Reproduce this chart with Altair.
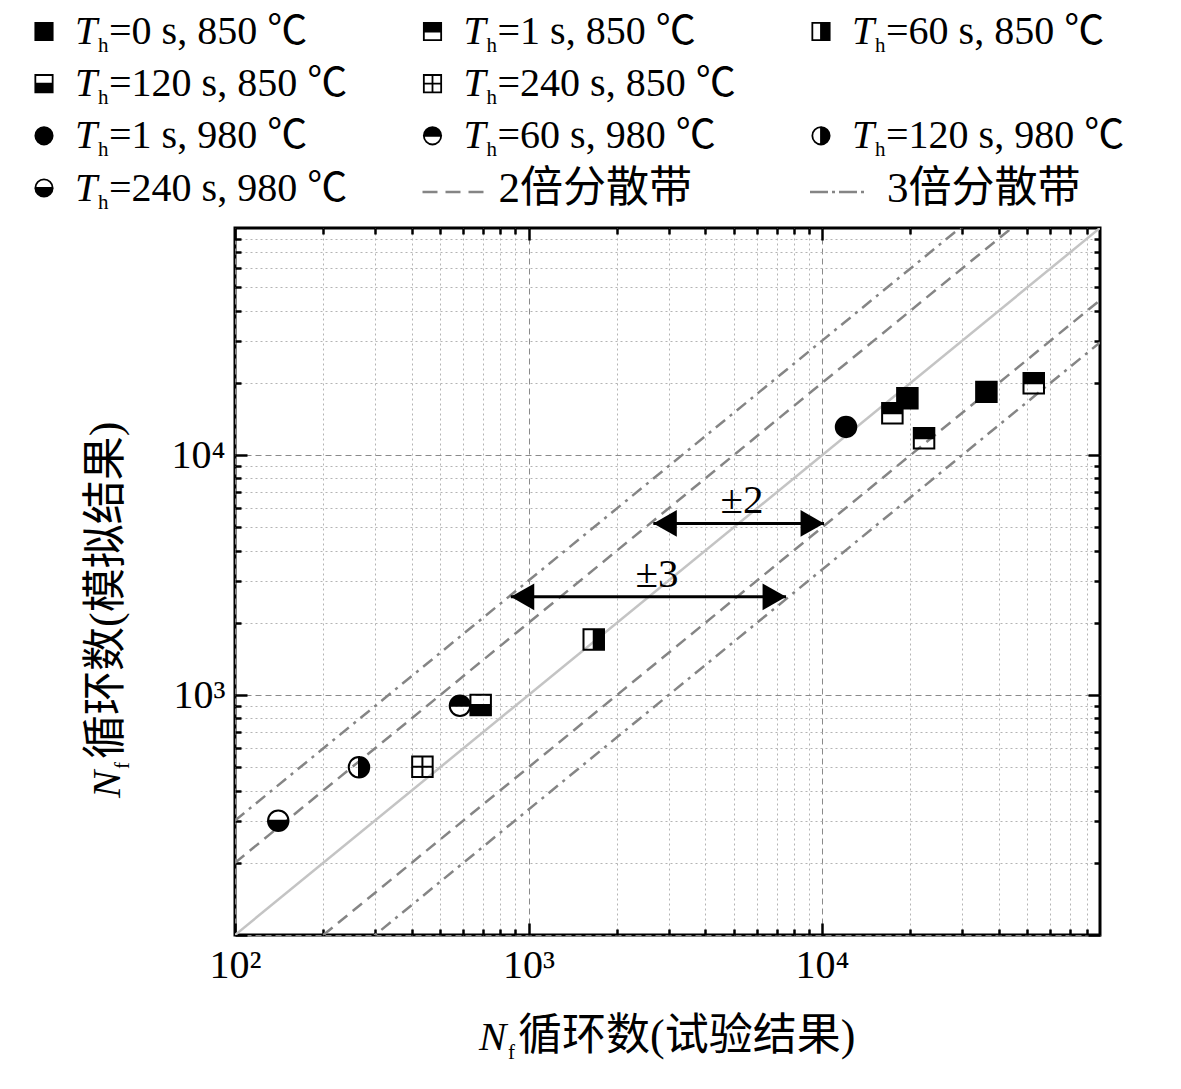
import altair as alt
import pandas as pd

# ---------------- data ----------------
series = ["0 s, 850 ℃", "1 s, 850 ℃", "60 s, 850 ℃", "120 s, 850 ℃", "240 s, 850 ℃",
          "1 s, 980 ℃", "60 s, 980 ℃", "120 s, 980 ℃", "240 s, 980 ℃"]

pt_series = ["0 s, 850 ℃", "0 s, 850 ℃", "1 s, 850 ℃", "1 s, 850 ℃", "1 s, 850 ℃",
             "60 s, 850 ℃", "120 s, 850 ℃", "240 s, 850 ℃",
             "1 s, 980 ℃", "60 s, 980 ℃", "120 s, 980 ℃", "240 s, 980 ℃"]
pt_exp = [19530, 36300, 17360, 22260, 52630, 1668, 687, 435, 12070, 584, 264.5, 140.4]
pt_sim = [17280, 18360, 14960, 11770, 19950, 1706, 909, 503, 13120, 903, 500, 299.5]

band_factor = [1, 2, 0.5, 3, 1 / 3]
band_kind = ["1:1", "2倍分散带", "2倍分散带", "3倍分散带", "3倍分散带"]

arrow_text = ["±2", "±3"]
arrow_y = [5193, 2568]
arrow_x1 = [2662, 870]
arrow_x2 = [10158, 7541]
arrow_label_x = [5340, 2740]

legend_row = [0, 0, 0, 1, 1, 2, 2, 2, 3]
legend_col = [0, 1, 2, 0, 1, 0, 1, 2, 0]
band_legend = ["2倍分散带", "3倍分散带"]
band_legend_row = [3, 3]
band_legend_col = [1, 2]

DOM = [100, 88500]
tick_values = [m * 10 ** e for e in (2, 3, 4) for m in range(1, 10) if m * 10 ** e <= DOM[1]]

# ---------------- styling ----------------
W, H = 865, 707
SERIF = "Liberation Serif"
SERIF_CJK = "Liberation Serif, Noto Sans CJK SC"
major_test = "indexof([100, 1000, 10000], datum.value) >= 0"

SQ = "M-1,-1H1V1H-1Z"
CI = "M-1,0A1,1,0,0,1,1,0A1,1,0,0,1,-1,0Z"
shape_paths = [
    SQ,
    SQ + "M-1,0V1H1V0Z",
    SQ + "M-1,-1V1H0V-1Z",
    SQ + "M-1,-1V0H1V-1Z",
    SQ + "M-1,-1V0H0V-1ZM0,-1V0H1V-1ZM-1,0V1H0V0ZM0,0V1H1V0Z",
    CI,
    CI + "M-1,0A1,1,0,0,0,1,0Z",
    CI + "M0,-1A1,1,0,0,0,0,1Z",
    CI + "M1,0A1,1,0,0,0,-1,0Z",
]
shape_scale = alt.Scale(domain=series, range=shape_paths)

x_label_expr = ("datum.value == 100 ? '10²' : datum.value == 1000 ? '10³' : "
                "datum.value == 10000 ? '10⁴' : ''")
y_label_expr = "datum.value == 1000 ? '10³' : datum.value == 10000 ? '10⁴' : ''"


def xs():
    return alt.Scale(type="log", domain=DOM, nice=False)


def label_axis(orient):
    return alt.Axis(
        values=tick_values, orient=orient, ticks=False, domain=False, grid=True,
        gridColor={"condition": {"test": major_test, "value": "#8a8a8a"}, "value": "#b4b4b4"},
        gridDash={"condition": {"test": major_test, "value": [6, 4]}, "value": [2, 3]},
        gridWidth=1, labelExpr=y_label_expr if orient == "left" else x_label_expr,
        labelFont=SERIF, labelFontSize=40,
        labelColor="black", labelPadding=10, labelFlush=False, labelOverlap=False,
        labelBound=False, title=None,
        labelAlign="right" if orient == "left" else "center",
        labelBaseline="middle" if orient == "left" else "top",
    )


def tick_axis(orient, offset):
    return alt.Axis(
        values=tick_values, orient=orient, offset=offset, labels=False, domain=False,
        grid=False, ticks=True,
        tickSize={"condition": {"test": major_test, "value": 12}, "value": 6},
        tickWidth=2.5, tickColor="black", title=None,
    )


# ---------------- frames ----------------
pts = pd.DataFrame({"series": pt_series, "exp": pt_exp, "sim": pt_sim})
lines_df = pd.DataFrame([{"kind": k, "factor": f, "x": x, "y": x * f}
                         for k, f in zip(band_kind, band_factor) for x in DOM])
arrows = pd.DataFrame({"text": arrow_text, "y": arrow_y, "x1": arrow_x1,
                       "x2": arrow_x2, "lx": arrow_label_x})
heads = pd.DataFrame({"side": ["left"] * 2 + ["right"] * 2,
                      "x": arrow_x1 + arrow_x2, "y": arrow_y + arrow_y})
leg = pd.DataFrame({"series": series, "row": legend_row, "col": legend_col,
                    "rest": ["=" + s for s in series]})
bleg = pd.DataFrame({"label": band_legend, "row": band_legend_row, "col": band_legend_col})
one = pd.DataFrame({"a": [0]})

lxs = alt.Scale(domain=[0, 2], range=[-191, 586])
lys = alt.Scale(domain=[0, 3], range=[-196.5, -40])

# ---------------- layers ----------------
solid = alt.Chart(lines_df).transform_filter(alt.datum.kind == "1:1").mark_line(
    clip=True, color="#c4c4c4", strokeWidth=2.5).encode(
    x=alt.X("x:Q", scale=xs(), axis=label_axis("bottom")),
    y=alt.Y("y:Q", scale=xs(), axis=label_axis("left")),
    detail="factor:N")

dashed = alt.Chart(lines_df).transform_filter(alt.datum.kind == "2倍分散带").mark_line(
    clip=True, color="#858585", strokeWidth=2.5, strokeDash=[12, 7]).encode(
    x=alt.X("x:Q", scale=xs(), axis=None),
    y=alt.Y("y:Q", scale=xs(), axis=None),
    detail="factor:N")

dashdot = alt.Chart(lines_df).transform_filter(alt.datum.kind == "3倍分散带").mark_line(
    clip=True, color="#858585", strokeWidth=2.5, strokeDash=[12, 6, 3, 6]).encode(
    x=alt.X("x:Q", scale=xs(), axis=None),
    y=alt.Y("y:Q", scale=xs(), axis=None),
    detail="factor:N")

points = alt.Chart(pts).mark_point(
    filled=True, fill="black", stroke="black", strokeWidth=2, size=420, opacity=1).encode(
    x=alt.X("exp:Q", scale=xs(), axis=None),
    y=alt.Y("sim:Q", scale=xs(), axis=None),
    shape=alt.Shape("series:N", scale=shape_scale, legend=None))

shaft = alt.Chart(arrows).mark_rule(color="black", strokeWidth=3).encode(
    x=alt.X("x1:Q", scale=xs(), axis=tick_axis("top", -H)),
    x2="x2:Q",
    y=alt.Y("y:Q", scale=xs(), axis=tick_axis("right", -W)))

LH = "M0,0L1.76,-1L1.76,1Z"
RH = "M0,0L-1.76,-1L-1.76,1Z"
heads_layer = alt.Chart(heads).mark_point(
    filled=True, fill="black", strokeWidth=0, size=713, opacity=1).encode(
    x=alt.X("x:Q", scale=xs(), axis=tick_axis("bottom", -H)),
    y=alt.Y("y:Q", scale=xs(), axis=tick_axis("left", -W)),
    shape=alt.Shape("side:N", scale=alt.Scale(domain=["left", "right"], range=[LH, RH]),
                    legend=None))

arrow_labels = alt.Chart(arrows).mark_text(
    font=SERIF, fontSize=41, align="center", baseline="alphabetic", dy=-10,
    color="black").encode(
    x=alt.X("lx:Q", scale=xs(), axis=None),
    y=alt.Y("y:Q", scale=xs(), axis=None),
    text="text:N")

# legend
leg_sym = alt.Chart(leg).mark_point(
    filled=True, fill="black", stroke="black", strokeWidth=1.8, size=300, opacity=1).encode(
    x=alt.X("col:Q", scale=lxs, axis=None),
    y=alt.Y("row:Q", scale=lys, axis=None),
    shape=alt.Shape("series:N", scale=shape_scale, legend=None))

leg_T = alt.Chart(leg).mark_text(
    text="T", font=SERIF, fontStyle="italic", fontSize=40, align="left",
    baseline="alphabetic", dx=31, dy=12.5, color="black").encode(
    x=alt.X("col:Q", scale=lxs, axis=None), y=alt.Y("row:Q", scale=lys, axis=None))

leg_h = alt.Chart(leg).mark_text(
    text="h", font=SERIF, fontSize=21, align="left",
    baseline="alphabetic", dx=54, dy=20.5, color="black").encode(
    x=alt.X("col:Q", scale=lxs, axis=None), y=alt.Y("row:Q", scale=lys, axis=None))

leg_rest = alt.Chart(leg).mark_text(
    font=SERIF_CJK, fontSize=40, align="left",
    baseline="alphabetic", dx=65, dy=12.5, color="black").encode(
    x=alt.X("col:Q", scale=lxs, axis=None), y=alt.Y("row:Q", scale=lys, axis=None),
    text="rest:N")

leg_dash = alt.Chart(bleg).transform_filter(alt.datum.label == "2倍分散带").mark_rule(
    color="#858585", strokeWidth=2.5, strokeDash=[15, 8], xOffset=-10, x2Offset=52,
    yOffset=4).encode(
    x=alt.X("col:Q", scale=lxs, axis=None), x2="col:Q",
    y=alt.Y("row:Q", scale=lys, axis=None))

leg_dashdot = alt.Chart(bleg).transform_filter(alt.datum.label == "3倍分散带").mark_rule(
    color="#858585", strokeWidth=2.5, strokeDash=[18, 4, 3, 4], xOffset=-11, x2Offset=46,
    yOffset=4).encode(
    x=alt.X("col:Q", scale=lxs, axis=None), x2="col:Q",
    y=alt.Y("row:Q", scale=lys, axis=None))

leg_band_text = alt.Chart(bleg).mark_text(
    font=SERIF_CJK, fontSize=43, align="left", baseline="alphabetic",
    dx=66, dy=14, color="black").encode(
    x=alt.X("col:Q", scale=lxs, axis=None), y=alt.Y("row:Q", scale=lys, axis=None),
    text="label:N")

# axis titles (rich text: italic N with subscript f)
XT_X, XT_Y = 244, 822
xt_N = alt.Chart(one).mark_text(text="N", font=SERIF, fontStyle="italic", fontSize=41,
                                align="left", baseline="alphabetic", color="black").encode(
    x=alt.value(XT_X), y=alt.value(XT_Y))
xt_f = alt.Chart(one).mark_text(text="f", font=SERIF, fontSize=21, align="left",
                                baseline="alphabetic", dx=29, dy=9, color="black").encode(
    x=alt.value(XT_X), y=alt.value(XT_Y))
xt_r = alt.Chart(one).mark_text(text="循环数(试验结果)", font=SERIF_CJK, fontSize=44,
                                align="left", baseline="alphabetic", dx=39, color="black").encode(
    x=alt.value(XT_X), y=alt.value(XT_Y))

YT_X, YT_Y = -115, 570
yt_N = alt.Chart(one).mark_text(text="N", font=SERIF, fontStyle="italic", fontSize=41, angle=270,
                                align="left", baseline="alphabetic", color="black").encode(
    x=alt.value(YT_X), y=alt.value(YT_Y))
yt_f = alt.Chart(one).mark_text(text="f", font=SERIF, fontSize=21, angle=270, align="left",
                                baseline="alphabetic", dx=29, dy=9, color="black").encode(
    x=alt.value(YT_X), y=alt.value(YT_Y))
yt_r = alt.Chart(one).mark_text(text="循环数(模拟结果)", font=SERIF_CJK, fontSize=44, angle=270,
                                align="left", baseline="alphabetic", dx=39, color="black").encode(
    x=alt.value(YT_X), y=alt.value(YT_Y))

chart = alt.layer(
    solid, dashed, dashdot, points, shaft, heads_layer, arrow_labels,
    leg_sym, leg_T, leg_h, leg_rest, leg_dash, leg_dashdot, leg_band_text,
    xt_N, xt_f, xt_r, yt_N, yt_f, yt_r,
).resolve_scale(
    x="independent", y="independent", shape="independent"
).resolve_axis(
    x="independent", y="independent"
).properties(
    width=W, height=H,
    autosize=alt.AutoSizeParams(type="none"),
    padding={"left": 227, "top": 220, "right": 73, "bottom": 146},
    background="white",
).configure_view(stroke="black", strokeWidth=3)

chart.save("out.html", embed_options={"renderer": "svg", "actions": False})
